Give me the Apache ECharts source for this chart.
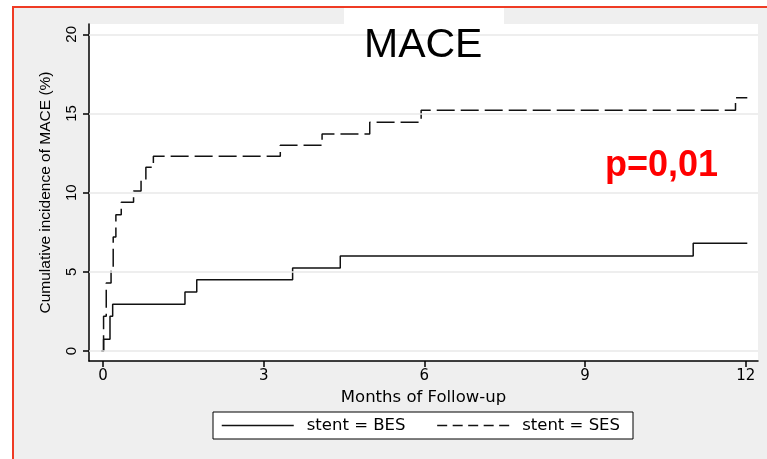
<!DOCTYPE html>
<html>
<head>
<meta charset="utf-8">
<script src="https://cdn.jsdelivr.net/npm/echarts@6/dist/echarts.min.js"></script>
<style>
html,body{margin:0;padding:0;background:#fff;}
#c{width:767px;height:459px;}
</style>
</head>
<body>
<div id="c"></div>
<script>
// Kaplan-Meier style cumulative incidence (%)
const monthsBES = [-0.03, 0.01, 0.13, 0.18, 1.53, 1.75, 3.54, 4.43, 11.02, 12.03];
const incidenceBES = [0, 0.75, 2.2, 2.95, 3.72, 4.5, 5.25, 6.0, 6.8, 6.8];
const monthsSES = [-0.03, 0.01, 0.06, 0.15, 0.19, 0.24, 0.34, 0.57, 0.71, 0.80, 0.94, 3.31, 4.09, 4.98, 5.94, 11.81, 12.03];
const incidenceSES = [0, 2.2, 4.3, 5.1, 7.2, 8.6, 9.4, 10.1, 10.8, 11.6, 12.3, 13.0, 13.7, 14.45, 15.2, 16.0, 16.0];
const xTicks = [0, 3, 6, 9, 12];
const yTicks = [0, 5, 10, 15, 20];
const seriesNames = ['stent = BES', 'stent = SES'];
const titleText = 'MACE';
const pText = 'p=0,01';
const xName = 'Months of Follow-up';
const yName = 'Cumulative incidence of MACE (%)';

const zip = (a, b) => a.map((v, i) => [v, b[i]]);
const chart = echarts.init(document.getElementById('c'), null, {renderer: 'canvas'});
chart.setOption({
  animation: false,
  backgroundColor: '#ffffff',
  graphic: [
    {type: 'rect', z: -10, silent: true, shape: {x: 13, y: 7, width: 800, height: 500},
     style: {fill: '#efefef', stroke: '#ef3b24', lineWidth: 2}},
    {type: 'rect', z: -5, silent: true, shape: {x: 344, y: 8, width: 160, height: 20},
     style: {fill: '#ffffff'}}
  ],
  title: [
    {text: titleText, left: 364, top: 25, padding: 0,
     textStyle: {fontFamily: 'Liberation Sans', fontSize: 41, fontWeight: 'normal', color: '#000'}},
    {text: pText, left: 605, top: 148, padding: 0,
     textStyle: {fontFamily: 'Arial, Liberation Sans', fontSize: 36, fontWeight: 700, color: '#ff0000'}}
  ],
  grid: {left: 89, right: 9, top: 24, bottom: 98, show: true, backgroundColor: '#ffffff', borderWidth: 0},
  legend: {
    show: true,
    data: [
      {name: seriesNames[0]},
      {name: seriesNames[1], lineStyle: {type: [10, 5.5]}}
    ],
    left: 213, top: 412, orient: 'horizontal',
    padding: [5, 13, 5, 8], itemWidth: 72, itemHeight: 14, itemGap: 31,
    backgroundColor: '#ffffff', borderColor: '#000', borderWidth: 1, borderRadius: 0,
    selectedMode: false,
    itemStyle: {opacity: 0},
    lineStyle: {width: 1.5},
    textStyle: {fontFamily: 'DejaVu Sans', fontSize: 16.5, color: '#000', padding: [0, 0, 0, 8]}
  },
  xAxis: {
    type: 'value', min: -0.262, max: 12.23,
    name: xName, nameLocation: 'middle', nameGap: 20,
    nameTextStyle: {fontFamily: 'DejaVu Sans', fontSize: 16.5, color: '#000'},
    axisLine: {show: true, onZero: false, lineStyle: {color: '#000', width: 1.5}},
    axisTick: {show: true, customValues: xTicks, length: 6, lineStyle: {color: '#000', width: 1.5}},
    axisLabel: {customValues: xTicks, margin: 8, fontFamily: 'DejaVu Sans', fontSize: 15, color: '#000'},
    splitLine: {show: false}
  },
  yAxis: {
    type: 'value', min: -0.63, max: 20.65,
    name: yName, nameLocation: 'middle', nameGap: 35,
    nameTextStyle: {fontFamily: 'Liberation Sans', fontSize: 15.5, color: '#000'},
    axisLine: {show: true, onZero: false, lineStyle: {color: '#000', width: 1.5}},
    axisTick: {show: true, customValues: yTicks, length: 6, lineStyle: {color: '#000', width: 1.5}},
    axisLabel: {customValues: yTicks, rotate: 90, margin: 10, fontFamily: 'Liberation Sans', fontSize: 15, color: '#000'},
    splitLine: {show: false}
  },
  series: [
    {name: seriesNames[0], type: 'line', step: 'end', symbol: 'none', z: 3,
     data: zip(monthsBES, incidenceBES),
     lineStyle: {color: '#111', width: 1.5, type: 'solid'}, itemStyle: {color: '#111'}},
    {name: seriesNames[1], type: 'line', step: 'end', symbol: 'none', z: 3,
     data: zip(monthsSES, incidenceSES),
     lineStyle: {color: '#111', width: 1.5, type: [18, 6]}, itemStyle: {color: '#111'}},
    {name: 'grid', type: 'line', data: [], z: 1, silent: true,
     markLine: {silent: true, symbol: 'none', label: {show: false},
       lineStyle: {color: '#e8e8e8', width: 1.5, type: 'solid'},
       data: yTicks.map(v => ({yAxis: v}))}}
  ]
});
</script>
</body>
</html>
